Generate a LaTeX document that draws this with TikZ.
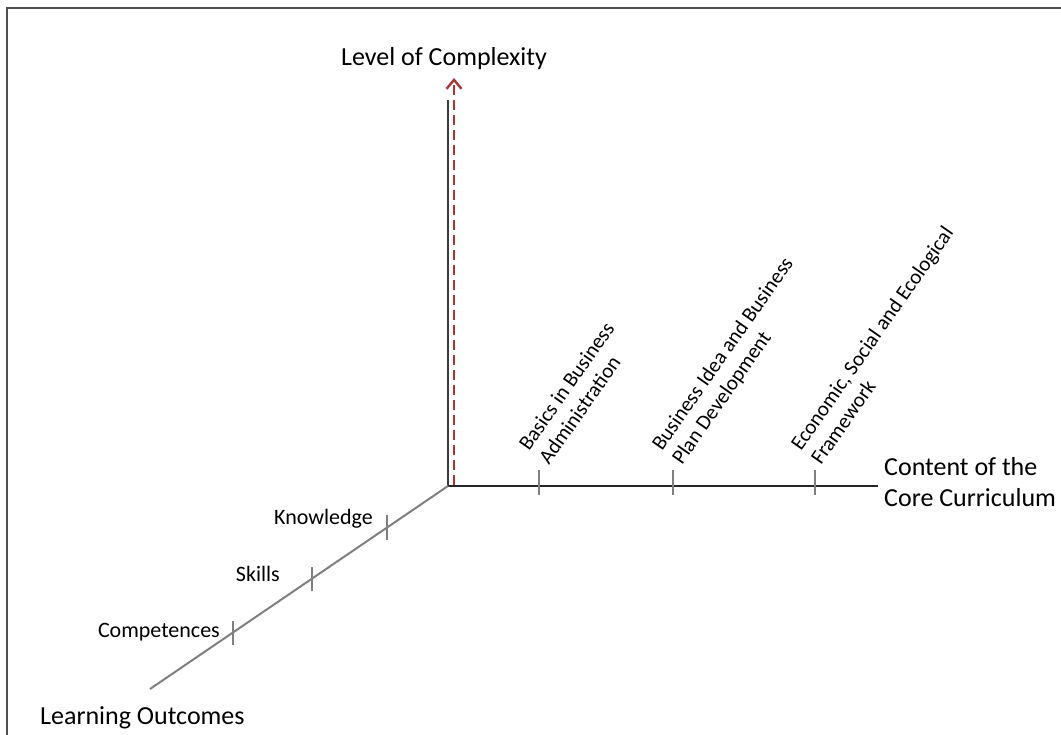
\documentclass[tikz,border=0pt]{standalone}
\usepackage{fontspec}
\setmainfont{Carlito}
\usetikzlibrary{arrows.meta}
\definecolor{axisdark}{RGB}{60,60,60}
\definecolor{tickgray}{RGB}{128,128,128}
\definecolor{arrowred}{RGB}{165,55,55}
\definecolor{framegray}{RGB}{80,80,80}
\begin{document}
\begin{tikzpicture}[x=1pt,y=-1pt,
  big/.style={font=\fontsize{26}{31}\selectfont, inner sep=0pt, text=black},
  small/.style={font=\fontsize{22}{25}\selectfont, inner sep=0pt, text=black},
  rotlabel/.style={font=\fontsize{21}{24.5}\selectfont, inner sep=0pt, text=black,
    rotate=55, anchor=base west, align=left},
  axisline/.style={draw=axisdark, line width=1.8pt},
  diagline/.style={draw=tickgray, line width=2pt},
  tickmark/.style={draw=tickgray, line width=2pt},
  redarrow/.style={draw=arrowred, line width=2.6pt, dash pattern=on 10pt off 5pt,
    -{Straight Barb[length=9pt,width=15pt,line width=2.4pt]}},
  framestyle/.style={draw=framegray, line width=1.5pt}]
\useasboundingbox (0,0) rectangle (1061,735);
% frame
\draw[framestyle] (7,735) -- (7,8) -- (1061,8);
% axis points
\coordinate (O) at (448,486);
\coordinate (vtop) at (448,100);
\coordinate (rbot) at (454,485);
\coordinate (rtop) at (454,78);
\coordinate (hend) at (878,486);
\coordinate (dend) at (150,689);
% axes
\draw[axisline] (O) -- (vtop);
\draw[axisline, draw=black!85, line width=1.5pt] (O) -- (hend);
\draw[diagline] (O) -- (dend);
\draw[redarrow] (rbot) -- (rtop);
% ticks on horizontal axis
\coordinate (h1a) at (539,470); \coordinate (h1b) at (539,495);
\coordinate (h2a) at (673,470); \coordinate (h2b) at (673,495);
\coordinate (h3a) at (815,470); \coordinate (h3b) at (815,495);
\draw[tickmark] (h1a) -- (h1b);
\draw[tickmark] (h2a) -- (h2b);
\draw[tickmark] (h3a) -- (h3b);
% ticks on diagonal axis
\coordinate (d1a) at (387,515); \coordinate (d1b) at (387,540);
\coordinate (d2a) at (312,567); \coordinate (d2b) at (312,591);
\coordinate (d3a) at (233,621); \coordinate (d3b) at (233,645);
\draw[tickmark] (d1a) -- (d1b);
\draw[tickmark] (d2a) -- (d2b);
\draw[tickmark] (d3a) -- (d3b);
% labels
\node[big, anchor=base west] (loc) at (341,66) {Level of Complexity};
\node[big, anchor=base west] (lo) at (40,724) {Learning Outcomes};
\node[big, anchor=base west, align=left] (cc) at (884,506) {Content of the\\Core Curriculum};
\node[small, anchor=base east] (know) at (373,524) {Knowledge};
\node[small, anchor=base east] (skills) at (280,581) {Skills};
\node[small, anchor=base east] (comp) at (220,637) {Competences};
\node[rotlabel] (c1) at (549,466) {Basics in Business\\Administration};
\node[rotlabel] (c2) at (682,466) {Business Idea and Business\\Plan Development};
\node[rotlabel] (c3) at (821,466) {Economic, Social and Ecological\\Framework};
\end{tikzpicture}
\end{document}
